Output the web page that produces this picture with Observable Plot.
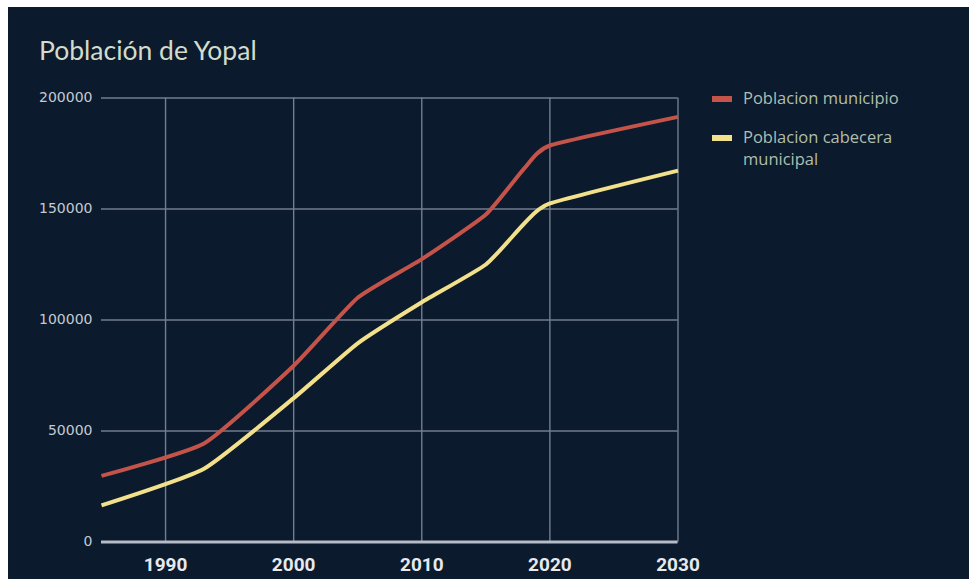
<!DOCTYPE html>
<html>
<head>
<meta charset="utf-8">
<script src="https://cdn.jsdelivr.net/npm/d3@7"></script>
<script src="https://cdn.jsdelivr.net/npm/@observablehq/plot@0.6"></script>
<style>
  html, body { margin: 0; padding: 0; background: #ffffff; }
  #panel {
    position: absolute; left: 8px; top: 7px; width: 961px; height: 572px;
    background: #0b1a2d; overflow: hidden;
  }
  #title {
    position: absolute; left: 31px; top: 30px; margin: 0;
    font-family: Lato, "Open Sans", sans-serif; font-size: 26.5px; line-height: 1;
    font-weight: 400; color: #d3dccb; white-space: nowrap;
  }
  #chart { position: absolute; left: 0; top: 73px; }
  #legend {
    position: absolute; left: 704px; top: 80px;
    font-family: "Open Sans", sans-serif; font-size: 16.5px; color: #b0bfad; line-height: 22px;
  }
  .item { position: relative; padding-left: 31px; margin-bottom: 17px; width: 210px; }
  .swatch { position: absolute; left: 0; top: 9px; width: 20px; height: 6px; }
</style>
</head>
<body>
<div id="panel">
  <div id="title">Población de Yopal</div>
  <div id="chart"></div>
  <div id="legend"></div>
</div>
<script>
// Population of Yopal (Casanare): census years and projections
const years = [1985, 1993, 2000, 2005, 2010, 2015, 2018, 2020, 2030];
const municipio = [29800, 44400, 79400, 110000, 127400, 147500, 168300, 178600, 191500];
const cabecera = [16500, 33000, 64800, 89500, 108000, 125000, 143500, 152500, 167300];

const seriesNames = ["Poblacion municipio", "Poblacion cabecera municipal"];
const seriesColors = ["#c4544a", "#f2e18a"];

const xTicks = [1990, 2000, 2010, 2020, 2030];
const yTicks = [0, 50000, 100000, 150000, 200000];

// long table: one row per (series, year)
const rows = [];
[municipio, cabecera].forEach((vals, s) => {
  years.forEach((yr, i) => rows.push({ serie: seriesNames[s], year: yr, value: vals[i] }));
});

const gridColor = "#737e8e";

const chart = Plot.plot({
  width: 961,
  height: 499,
  marginLeft: 93,
  marginRight: 291.5,
  marginTop: 17.5,
  marginBottom: 37.5,
  style: { background: "transparent", overflow: "visible" },
  x: { domain: [1985, 2030], ticks: xTicks, label: null },
  y: { domain: [0, 200000], ticks: yTicks, label: null },
  color: { domain: seriesNames, range: seriesColors },
  marks: [
    Plot.gridX(xTicks, { stroke: gridColor, strokeOpacity: 1, strokeWidth: 1.4 }),
    Plot.gridY(yTicks, { stroke: gridColor, strokeOpacity: 1, strokeWidth: 1.4 }),
    Plot.ruleY([0], { stroke: "#b4bcc8", strokeWidth: 3 }),
    Plot.axisX(xTicks, {
      tickSize: 0, tickPadding: 15.5, fill: "#e6e9ee", label: null,
      fontSize: 19, fontWeight: 700, fontFamily: "Roboto, sans-serif",
      tickFormat: d => String(d)
    }),
    Plot.axisY(yTicks, {
      tickSize: 0, tickPadding: 9, fill: "#c3cad2", label: null,
      fontSize: 14, fontFamily: "DejaVu Sans, sans-serif",
      tickFormat: d => String(d)
    }),
    // lightly smoothed lines: cardinal spline with high tension keeps segments nearly straight
    Plot.line(rows, {
      x: "year", y: "value", z: "serie", stroke: "serie",
      strokeWidth: 4, curve: d3.curveCardinal.tension(0.5),
      strokeLinejoin: "round", strokeLinecap: "butt"
    })
  ]
});
document.getElementById("chart").appendChild(chart);

// legend
const legend = document.getElementById("legend");
seriesNames.forEach((name, i) => {
  const item = document.createElement("div");
  item.className = "item";
  const sw = document.createElement("span");
  sw.className = "swatch";
  sw.style.background = seriesColors[i];
  item.appendChild(sw);
  if (i === 1) {
    item.appendChild(document.createTextNode("Poblacion cabecera"));
    item.appendChild(document.createElement("br"));
    item.appendChild(document.createTextNode("municipal"));
  } else {
    item.appendChild(document.createTextNode(name));
  }
  legend.appendChild(item);
});
</script>
</body>
</html>
